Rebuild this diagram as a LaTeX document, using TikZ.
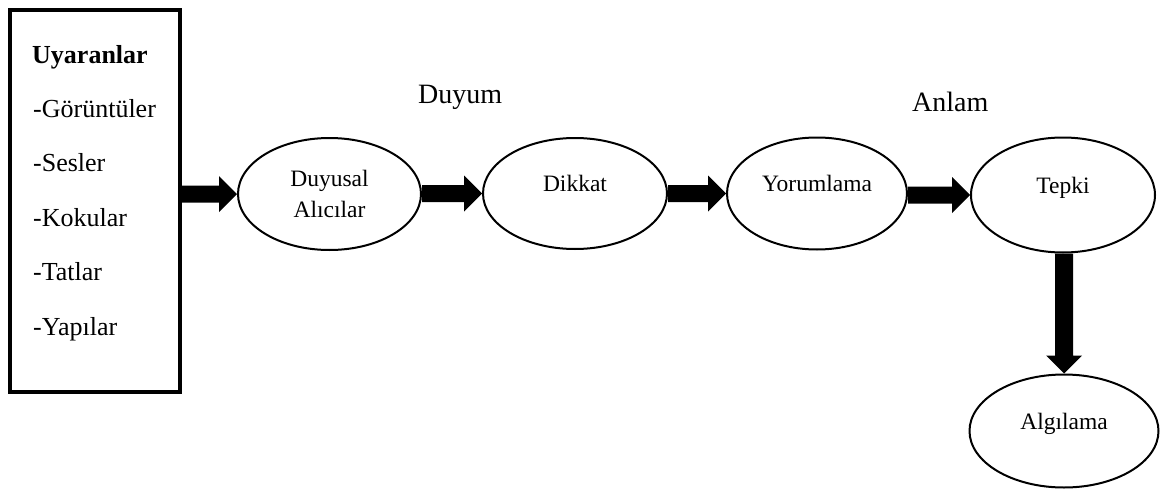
\documentclass[tikz,border=0pt]{standalone}
\usepackage{fontspec}
\setmainfont{Liberation Serif}
\usetikzlibrary{shapes.geometric,calc}
\newcommand{\hblock}[2]{%
  \fill ($(#1.east|-#2.west)+(0,8.5)$) -- ($(#2.west)+(-18,8.5)$) -- ($(#2.west)+(-18,18)$) -- (#2.west)
   -- ($(#2.west)+(-18,-18)$) -- ($(#2.west)+(-18,-8.5)$) -- ($(#1.east|-#2.west)+(0,-8.5)$) -- cycle;}
\newcommand{\vblock}[2]{%
  \fill ($(#2.north|-#1.south)+(-9,0)$) -- ($(#2.north)+(-9,-18)$) -- ($(#2.north)+(-18,-18)$) -- (#2.north)
   -- ($(#2.north)+(18,-18)$) -- ($(#2.north)+(9,-18)$) -- ($(#2.north|-#1.south)+(9,0)$) -- cycle;}
\begin{document}
\begin{tikzpicture}[x=1pt,y=-1pt,
  oval/.style={ellipse,draw,line width=2pt,inner sep=0pt,
    font=\fontsize{23.5pt}{31pt}\selectfont},
  onel/.style={text height=16pt,text depth=20pt},
  listtxt/.style={anchor=base west,inner sep=0pt,font=\fontsize{26pt}{30pt}\selectfont},
  labtxt/.style={anchor=base west,inner sep=0pt,font=\fontsize{28pt}{32pt}\selectfont}]
\useasboundingbox (0,0) rectangle (1163,490);
% stimulus box
\node[draw,line width=4pt,inner sep=0pt,minimum width=170pt,minimum height=382pt] (box) at (95,200.5) {};
\node[listtxt,font=\fontsize{26pt}{30pt}\selectfont\bfseries] (l0) at (32,63) {Uyaranlar};
\node[listtxt] (l1) at (33,117.4) {-Görüntüler};
\node[listtxt] (l2) at (33,171.8) {-Sesler};
\node[listtxt] (l3) at (33,226.2) {-Kokular};
\node[listtxt] (l4) at (33,280.6) {-Tatlar};
\node[listtxt] (l5) at (33,335) {-Yapılar};
% ellipses
\node[oval,align=center,minimum width=183pt,minimum height=112pt] (duy) at (329.5,194) {Duyusal\\Alıcılar};
\node[oval,onel,minimum width=184pt,minimum height=111pt] (dik) at (575,193.5) {Dikkat};
\node[oval,onel,minimum width=180pt,minimum height=112pt] (yor) at (817,193.5) {Yorumlama};
\node[oval,onel,minimum width=184pt,minimum height=115pt] (tep) at (1063,195) {Tepki};
\node[oval,onel,minimum width=189pt,minimum height=113pt] (alg) at (1064,431) {Algılama};
% labels
\node[labtxt] (duyum) at (418,103.3) {Duyum};
\node[labtxt] (anlam) at (912,111.7) {Anlam};
% block arrows
\hblock{box}{duy}
\hblock{duy}{dik}
\hblock{dik}{yor}
\hblock{yor}{tep}
\vblock{tep}{alg}
\end{tikzpicture}
\end{document}
